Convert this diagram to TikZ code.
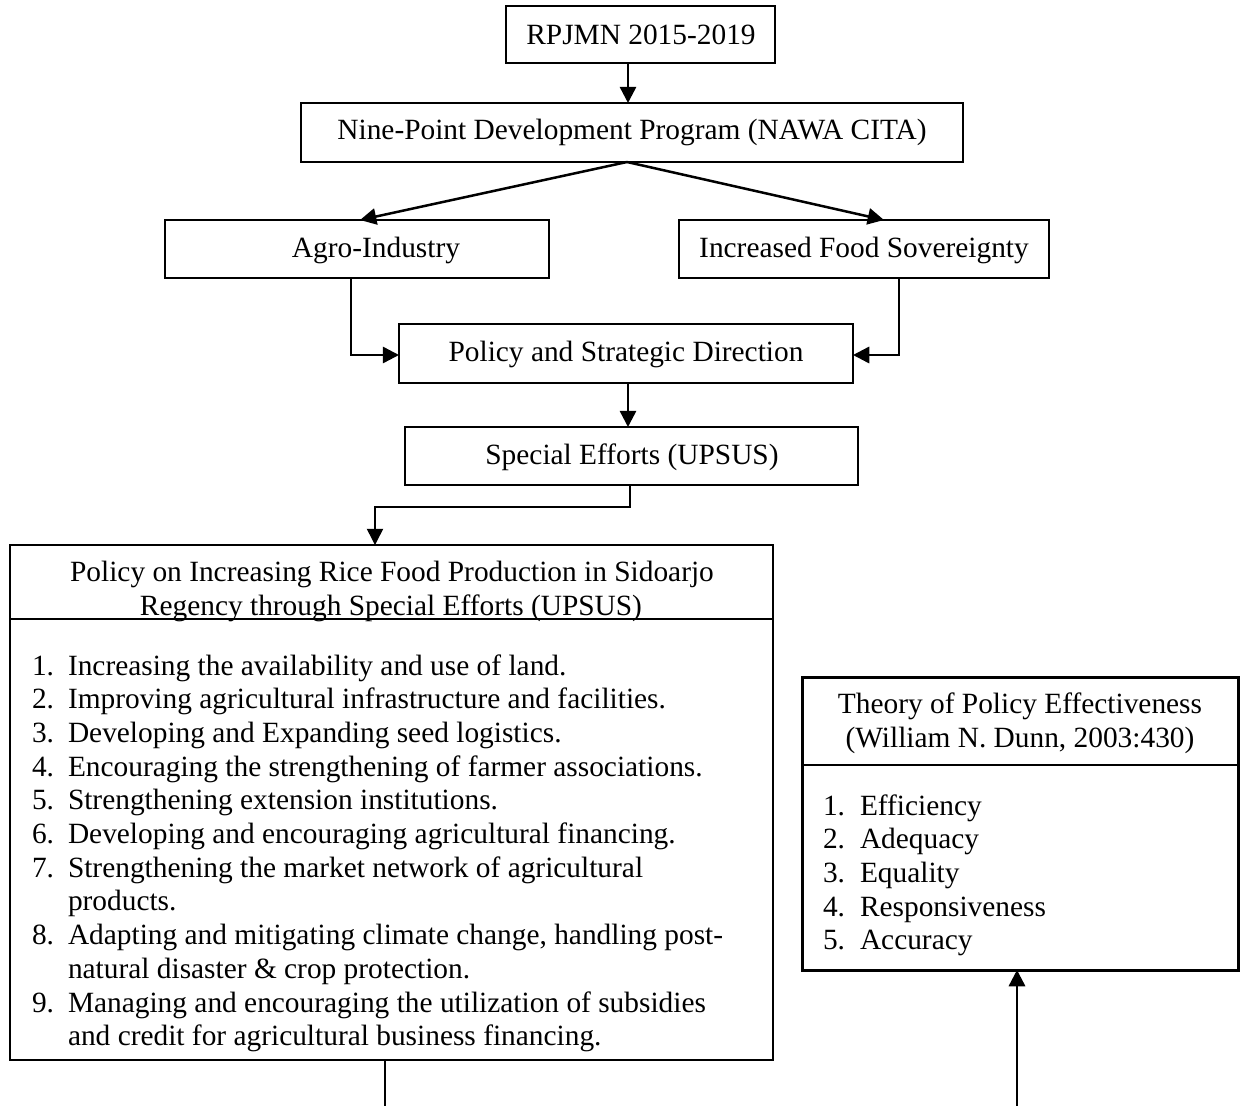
\documentclass[tikz,border=0pt]{standalone}
\usepackage{fontspec}
\setmainfont{Liberation Serif}
\usetikzlibrary{arrows.meta,fit}
\begin{document}
\begin{tikzpicture}[x=0.4pt,y=-0.4pt,
  box/.style={draw, line width=0.6pt, inner sep=0pt, outer sep=0pt},
  thickbox/.style={draw, line width=1.2pt, inner sep=0pt, outer sep=0pt},
  txt/.style={font=\fontsize{11.75}{13.5}\selectfont, inner sep=0pt, outer sep=0pt},
  ctr/.style={txt, anchor=base},
  itm/.style={txt, anchor=base west},
  arr/.style={line width=1pt, -{Triangle[length=6.5pt,width=6.5pt]}},
  thinarr/.style={line width=0.6pt, -{Triangle[length=6.5pt,width=6.5pt]}},
  plain/.style={line width=0.6pt}]
\useasboundingbox (0,0) rectangle (1246,1106);

% boxes
\node[box, fit={(506,6) (775,63)}] (rp) {};
\node[box, fit={(301,103) (963,162)}] (nawa) {};
\node[box, fit={(165,220) (549,278)}] (agro) {};
\node[box, fit={(679,220) (1049,278)}] (food) {};
\node[box, fit={(399,324) (853,383)}] (pol) {};
\node[box, fit={(405,427) (858,485)}] (spec) {};
\node[box, fit={(10,545) (773,1060)}] (big) {};
\node[thickbox, fit={(802,677) (1238,970)}] (theo) {};

% box texts
\node[ctr] (rpt) at (641,44) {RPJMN 2015-2019};
\node[ctr] (nawat) at (632,139) {Nine-Point Development Program (NAWA CITA)};
\node[ctr] (agrot) at (376,257) {Agro-Industry};
\node[ctr] (foodt) at (864,257) {Increased Food Sovereignty};
\node[ctr] (polt) at (626,361) {Policy and Strategic Direction};
\node[ctr] (spect) at (632,464) {Special Efforts (UPSUS)};

% big box header
\node[ctr] (bh1) at (392,581) {Policy on Increasing Rice Food Production in Sidoarjo};
\node[ctr] (bh2) at (391,615) {Regency through Special Efforts (UPSUS)};
\coordinate (bdiv) at (0,619);
\draw[plain] (big.west |- bdiv) -- (big.east |- bdiv);

% big box list
\node[itm] (n1) at (32,675) {1.};
\node[itm] (t1) at (68,675) {Increasing the availability and use of land.};
\node[itm] (n2) at (32,708.7) {2.};
\node[itm] (t2) at (68,708.7) {Improving agricultural infrastructure and facilities.};
\node[itm] (n3) at (32,742.4) {3.};
\node[itm] (t3) at (68,742.4) {Developing and Expanding seed logistics.};
\node[itm] (n4) at (32,776.1) {4.};
\node[itm] (t4) at (68,776.1) {Encouraging the strengthening of farmer associations.};
\node[itm] (n5) at (32,809.8) {5.};
\node[itm] (t5) at (68,809.8) {Strengthening extension institutions.};
\node[itm] (n6) at (32,843.5) {6.};
\node[itm] (t6) at (68,843.5) {Developing and encouraging agricultural financing.};
\node[itm] (n7) at (32,877.2) {7.};
\node[itm] (t7) at (68,877.2) {Strengthening the market network of agricultural};
\node[itm] (t7b) at (68,910.9) {products.};
\node[itm] (n8) at (32,944.6) {8.};
\node[itm] (t8) at (68,944.6) {Adapting and mitigating climate change, handling post-};
\node[itm] (t8b) at (68,978.3) {natural disaster \& crop protection.};
\node[itm] (n9) at (32,1012) {9.};
\node[itm] (t9) at (68,1012) {Managing and encouraging the utilization of subsidies};
\node[itm] (t9b) at (68,1045.7) {and credit for agricultural business financing.};

% theory box
\node[ctr] (th1) at (1020,713) {Theory of Policy Effectiveness};
\node[ctr] (th2) at (1020,747) {(William N. Dunn, 2003:430)};
\coordinate (tdiv) at (0,765);
\draw[plain] (theo.west |- tdiv) -- (theo.east |- tdiv);
\node[itm] (m1) at (823,815) {1.};
\node[itm] (s1) at (860,815) {Efficiency};
\node[itm] (m2) at (823,848.7) {2.};
\node[itm] (s2) at (860,848.7) {Adequacy};
\node[itm] (m3) at (823,882.4) {3.};
\node[itm] (s3) at (860,882.4) {Equality};
\node[itm] (m4) at (823,916.1) {4.};
\node[itm] (s4) at (860,916.1) {Responsiveness};
\node[itm] (m5) at (823,949.8) {5.};
\node[itm] (s5) at (860,949.8) {Accuracy};

% helper coordinates
\coordinate (x628) at (628,0);
\coordinate (dstart) at (627,162);
\coordinate (ltip) at (360,220);
\coordinate (rtip) at (884,220);
\coordinate (xa) at (351,355);
\coordinate (xf) at (899,355);
\coordinate (x630) at (630,507);
\coordinate (x375) at (375,507);
\coordinate (x385) at (385,1106);
\coordinate (x1017) at (1017,1106);

% connectors
\draw[arr] (rp.south -| x628) -- (nawa.north -| x628);
\draw[arr] (dstart) -- (ltip);
\draw[arr] (dstart) -- (rtip);
\draw[arr] (agro.south -| xa) -- (xa) -- (pol.west |- xa);
\draw[arr] (food.south -| xf) -- (xf) -- (pol.east |- xf);
\draw[arr] (pol.south -| x628) -- (spec.north -| x628);
\draw[thinarr] (spec.south -| x630) -- (x630) -- (x375) -- (big.north -| x375);
\draw[plain] (big.south -| x385) -- (x385);
\draw[arr] (x1017) -- (theo.south -| x1017);
\end{tikzpicture}
\end{document}
